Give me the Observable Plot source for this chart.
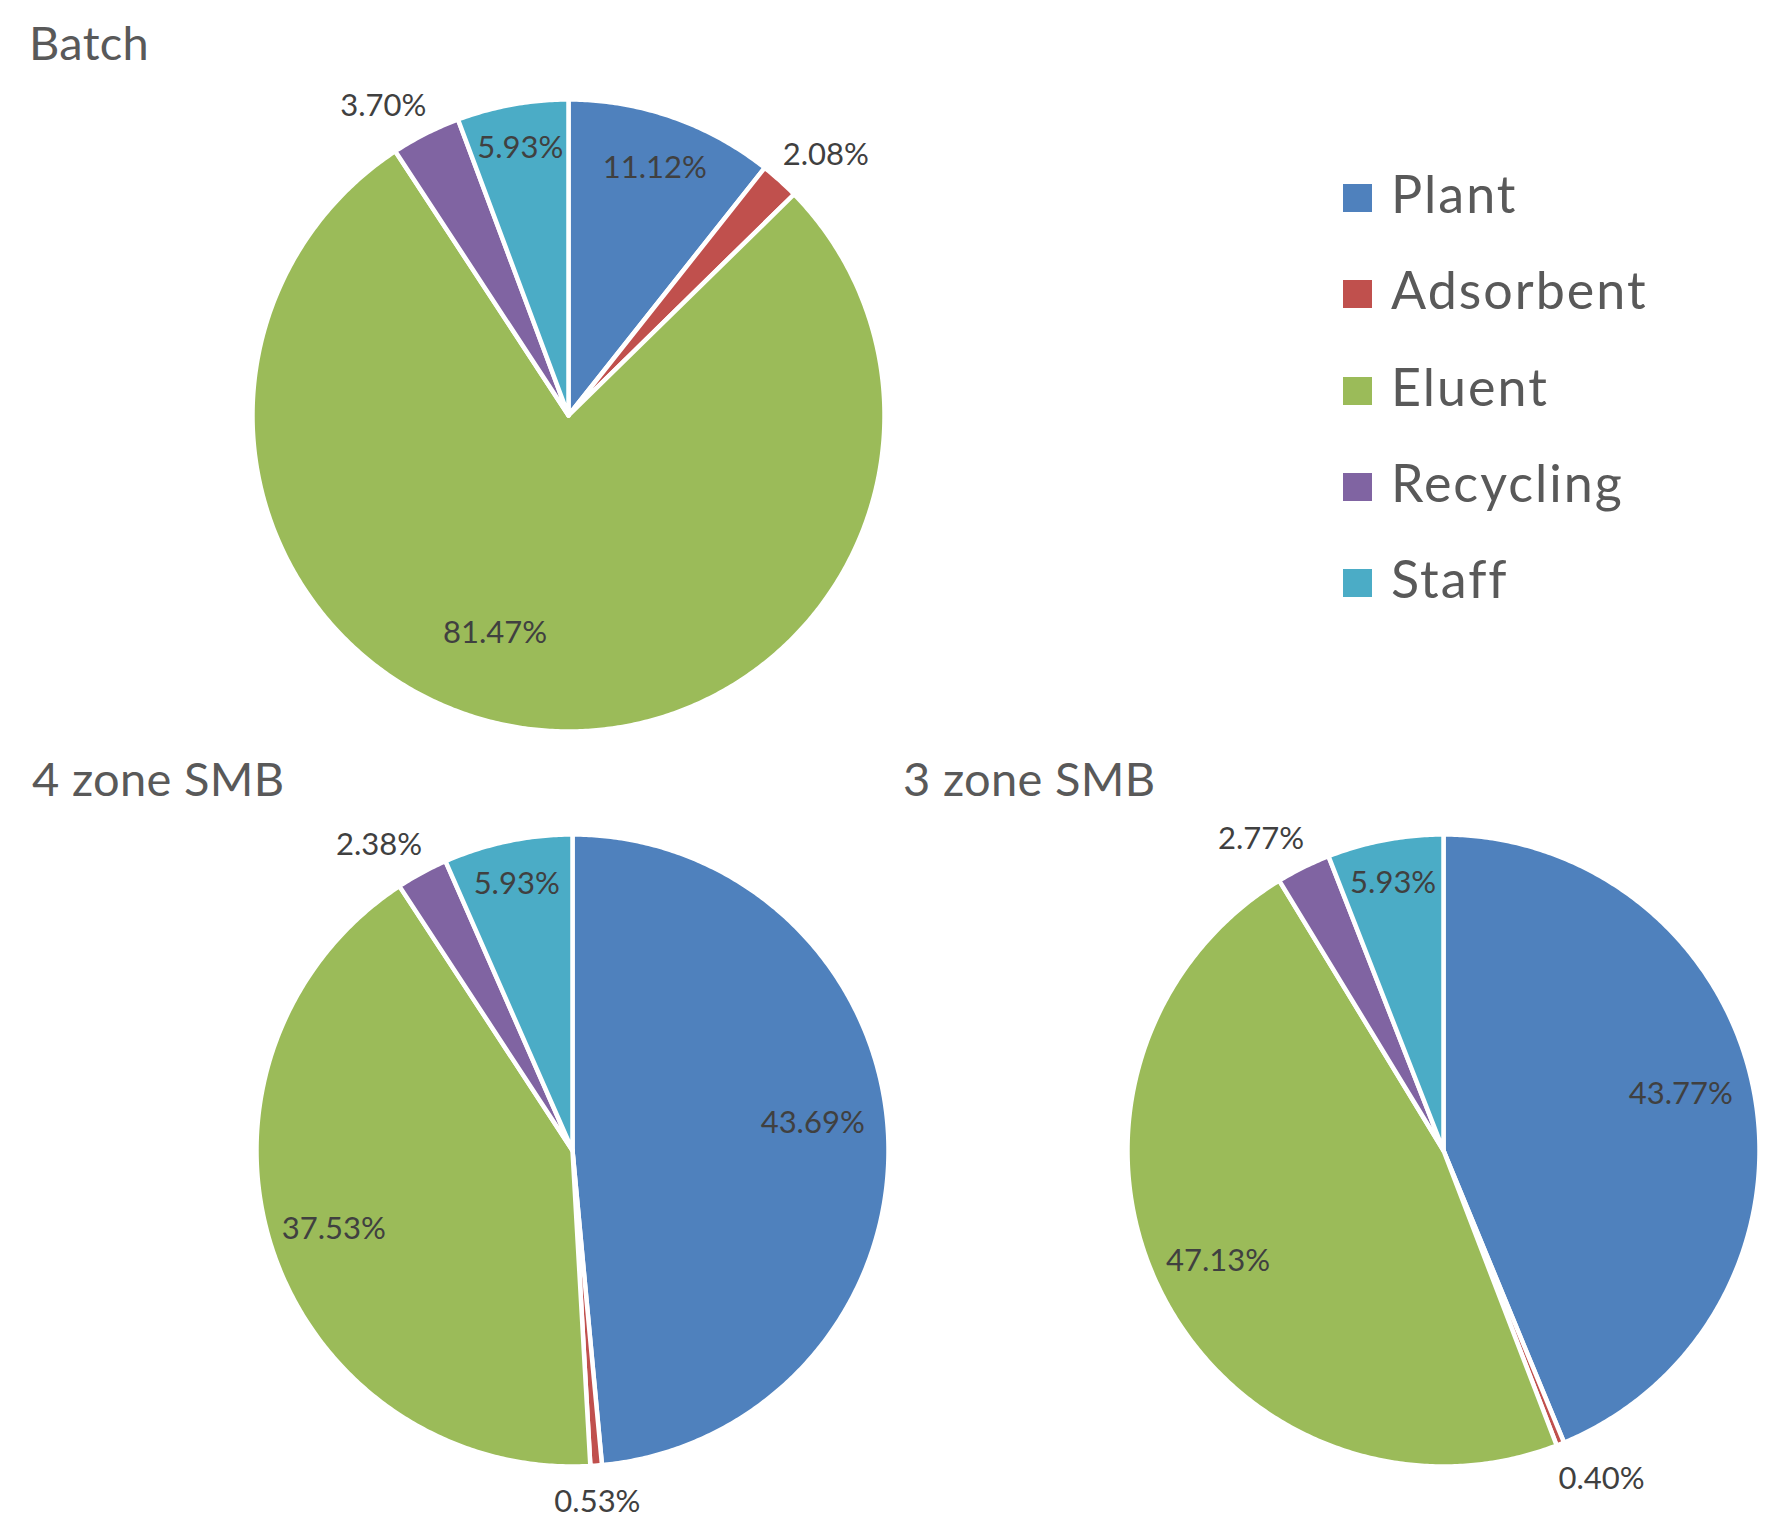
<!DOCTYPE html>
<html>
<head>
<meta charset="utf-8">
<script src="https://cdn.jsdelivr.net/npm/d3@7"></script>
<script src="https://cdn.jsdelivr.net/npm/@observablehq/plot@0.6"></script>
<style>
  html, body { margin: 0; padding: 0; background: #ffffff; }
  body { width: 1775px; height: 1535px; position: relative; overflow: hidden; font-family: Lato, "Open Sans", sans-serif; }
  .title { position: absolute; font-size: 47px; line-height: 1; color: #595959; white-space: nowrap; letter-spacing: 0.3px; }
  .pie { position: absolute; }
  .pie svg { max-width: none !important; display: block; }
  .lg-swatch { position: absolute; width: 29px; height: 28px; }
  .lg-text { position: absolute; font-size: 52px; line-height: 1; color: #595959; white-space: nowrap; letter-spacing: 2px; }
</style>
</head>
<body>
<script>
// ---- data ----
const categories = ["Plant", "Adsorbent", "Eluent", "Recycling", "Staff"];
const colors = ["#4F81BD", "#C0504D", "#9BBB59", "#8064A2", "#4BACC6"];
const chartTitles = ["Batch", "4 zone SMB", "3 zone SMB"];
const batchValues = [11.12, 2.08, 81.47, 3.70, 5.93];
const zone4Values = [43.69, 0.53, 37.53, 2.38, 5.93];
const zone3Values = [43.77, 0.40, 47.13, 2.77, 5.93];

// ---- layout (not data) ----
const R = 316, W = 700, H = 740;
const charts = [
  {title: chartTitles[0], values: batchValues, cx: 568, cy: 415, tx: 29, ty: 19,
   tweak: {Plant: {r: 0.83}, Eluent: {r: 0.726, da: 12.5}}},
  {title: chartTitles[1], values: zone4Values, cx: 572, cy: 1150, tx: 32, ty: 755,
   tweak: {Plant: {r: 0.765, da: -3.8}}},
  {title: chartTitles[2], values: zone3Values, cx: 1443, cy: 1150, tx: 903, ty: 755,
   tweak: {Plant: {r: 0.772, da: -2.1}}}
];
const OUT_R = 1.052;               // anchor of outside labels (fraction of radius)
const HALF_W = 35;                  // horizontal offset of outside labels, px
const OFF_TOP = 13, OFF_BOTTOM = 20; // vertical offset of outside labels, px

function build(values, tweak) {
  const total = d3.sum(values);
  let acc = 0;
  const poly = [], labels = [];
  values.forEach((v, i) => {
    const a0 = acc / total * 2 * Math.PI;
    acc += v;
    const a1 = acc / total * 2 * Math.PI;
    const n = Math.max(2, Math.ceil((a1 - a0) / (Math.PI / 360)));
    const cat = categories[i];
    poly.push({category: cat, x: 0, y: 0});
    for (let k = 0; k <= n; k++) {
      const a = a0 + (a1 - a0) * k / n;
      poly.push({category: cat, x: Math.sin(a), y: Math.cos(a)});
    }
    poly.push({category: cat, x: 0, y: 0});
    const share = v / total;
    const tw = tweak[cat] || {};
    const mid = (a0 + a1) / 2 + (tw.da || 0) * Math.PI / 180;
    const s = Math.sin(mid), c = Math.cos(mid);
    let x, y;
    if (share < 0.04) {
      const sx = Math.abs(s) < 0.2 ? 0 : Math.sign(s);
      x = OUT_R * s + sx * HALF_W / R;
      y = OUT_R * c + (c > 0 ? OFF_TOP : -OFF_BOTTOM) / R;
    } else {
      const rr = tw.r || (share < 0.1 ? 0.86 : 0.795);
      x = rr * s; y = rr * c;
    }
    labels.push({category: cat, text: v.toFixed(2) + "%", x, y});
  });
  return {poly, labels};
}

charts.forEach(c => {
  const t = document.createElement("div");
  t.className = "title";
  t.textContent = c.title;
  t.style.left = c.tx + "px";
  t.style.top = c.ty + "px";
  document.body.appendChild(t);

  const {poly, labels} = build(c.values, c.tweak);
  const svg = Plot.plot({
    width: W, height: H, margin: 0,
    x: {domain: [-W / 2 / R, W / 2 / R], axis: null},
    y: {domain: [-H / 2 / R, H / 2 / R], axis: null},
    color: {domain: categories, range: colors},
    style: {background: "transparent", overflow: "visible", fontFamily: "Lato"},
    marks: [
      Plot.line(poly, {x: "x", y: "y", z: "category", fill: "category", stroke: "white", strokeWidth: 4.5, strokeLinejoin: "round", curve: "linear"}),
      Plot.text(labels, {x: "x", y: "y", text: "text", fill: "#404040", fontSize: 31, fontFamily: "Lato", textAnchor: "middle", lineAnchor: "middle"})
    ]
  });
  const wrap = document.createElement("div");
  wrap.className = "pie";
  wrap.style.left = (c.cx - W / 2) + "px";
  wrap.style.top = (c.cy - H / 2) + "px";
  wrap.style.width = W + "px";
  wrap.style.height = H + "px";
  wrap.appendChild(svg);
  document.body.appendChild(wrap);
});

// legend
categories.forEach((cat, i) => {
  const y = 184 + i * 96.3;
  const s = document.createElement("div");
  s.className = "lg-swatch";
  s.style.left = "1343px";
  s.style.top = y + "px";
  s.style.background = colors[i];
  document.body.appendChild(s);
  const t = document.createElement("div");
  t.className = "lg-text";
  t.textContent = cat;
  t.style.left = "1391px";
  t.style.top = (y - 17) + "px";
  document.body.appendChild(t);
});
</script>
</body>
</html>
